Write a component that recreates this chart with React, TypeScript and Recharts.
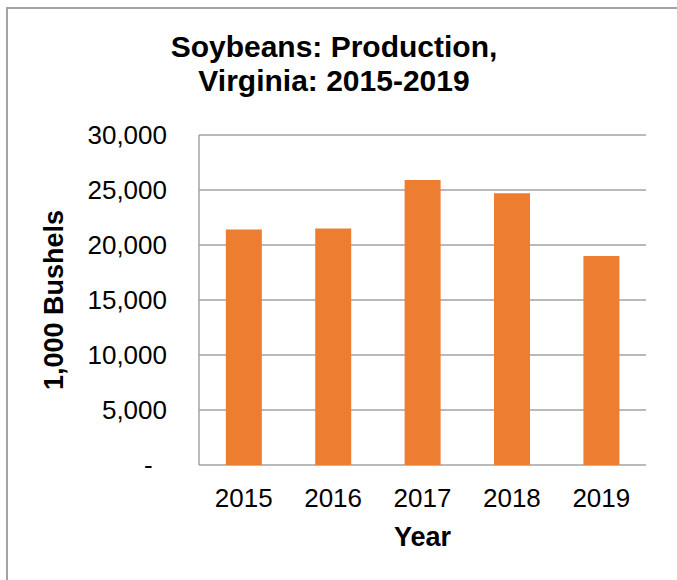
import React from 'react';
import { BarChart, Bar, XAxis, YAxis, CartesianGrid, Label } from 'recharts';

// Virginia soybean production, 1,000 bushels
const years = ['2015', '2016', '2017', '2018', '2019'];
const production = [21400, 21500, 25900, 24700, 19000];
const yTicks = [0, 5000, 10000, 15000, 20000, 25000, 30000];
const edgeTicks = [0, 1, 2, 3, 4, 5];

const FONT = '"Liberation Sans", Arial, sans-serif';
const GRAY = '#a3a3a3';
const ORANGE = '#ED7D31';

const chartData = years.map((year, i) => ({ year, value: production[i] }));

const formatY = (v: number) => (v === 0 ? '-\u00A0\u00A0' : v.toLocaleString('en-US'));

const App: React.FC = () => {
  return (
    <div
      style={{
        position: 'absolute',
        left: 0,
        top: 0,
        width: 677,
        height: 580,
        overflow: 'hidden',
        background: '#fff',
        fontFamily: FONT,
      }}
    >
      {/* frame: only top and left edges are visible in the crop */}
      <div
        style={{
          position: 'absolute',
          left: 6,
          top: 7,
          width: 700,
          height: 600,
          borderTop: `2px solid ${GRAY}`,
          borderLeft: `2px solid ${GRAY}`,
        }}
      />
      <div
        style={{
          position: 'absolute',
          left: 0,
          top: 30,
          width: 668,
          textAlign: 'center',
          fontSize: 30,
          lineHeight: '34px',
          fontWeight: 'bold',
          color: '#000',
        }}
      >
        Soybeans: Production,
        <br />
        Virginia: 2015-2019
      </div>
      <div style={{ position: 'absolute', left: 0, top: 0 }}>
        <BarChart
          width={677}
          height={580}
          data={chartData}
          margin={{ top: 135, right: 31, left: 0, bottom: 0 }}
          barCategoryGap="30%"
        >
          <CartesianGrid vertical={false} stroke={GRAY} strokeWidth={1.5} />
          <XAxis
            xAxisId="edges"
            type="number"
            domain={[0, 5]}
            allowDataOverflow
            ticks={edgeTicks}
            tickFormatter={() => ''}
            height={0}
            tickSize={8}
            stroke={GRAY}
            strokeWidth={1.5}
            tickLine={{ stroke: GRAY, strokeWidth: 1.5 }}
          />
          <XAxis
            xAxisId="cat"
            dataKey="year"
            height={115}
            axisLine={false}
            tickLine={false}
            tickSize={0}
            tickMargin={24}
            tick={{ fill: '#000', fontSize: 26, fontFamily: FONT }}
          >
            <Label
              content={({ viewBox }: any) => (
                <text
                  x={viewBox.x + viewBox.width / 2}
                  y={viewBox.y + 81}
                  textAnchor="middle"
                  fontSize={27}
                  fontWeight="bold"
                  fontFamily={FONT}
                  fill="#000"
                >
                  Year
                </text>
              )}
            />
          </XAxis>
          <YAxis
            width={199}
            domain={[0, 30000]}
            ticks={yTicks}
            tickFormatter={formatY}
            tickLine={false}
            tickSize={0}
            tickMargin={32}
            stroke={GRAY}
            strokeWidth={1.5}
            tick={{ fill: '#000', fontSize: 26, fontFamily: FONT }}
          >
            <Label
              content={({ viewBox }: any) => {
                const cx = 63;
                const cy = viewBox.y + viewBox.height / 2;
                return (
                  <text
                    x={cx}
                    y={cy}
                    transform={`rotate(-90 ${cx} ${cy})`}
                    textAnchor="middle"
                    fontSize={27}
                    fontWeight="bold"
                    fontFamily={FONT}
                    fill="#000"
                  >
                    1,000 Bushels
                  </text>
                );
              }}
            />
          </YAxis>
          <Bar dataKey="value" xAxisId="cat" fill={ORANGE} isAnimationActive={false} />
        </BarChart>
      </div>
    </div>
  );
};

export default App;
